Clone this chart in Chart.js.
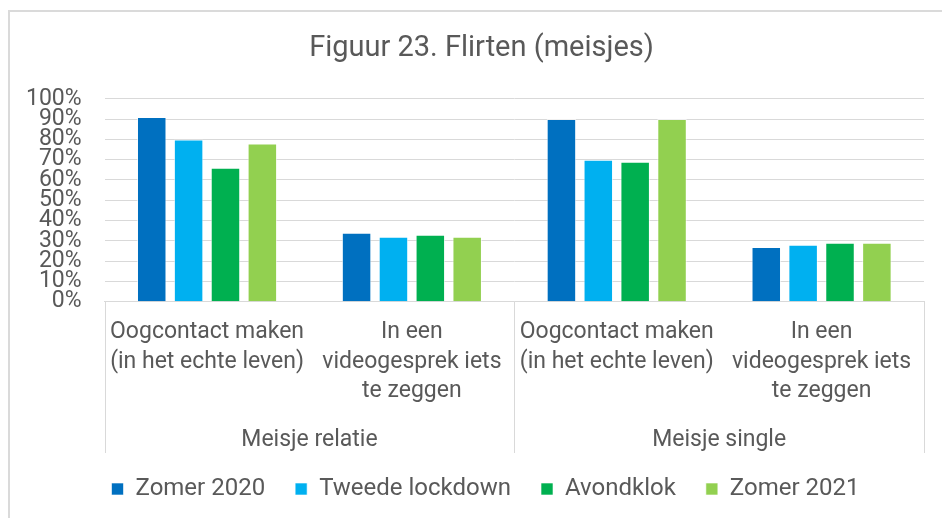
<!DOCTYPE html>
<html>
<head>
<meta charset="utf-8">
<script src="https://cdn.jsdelivr.net/npm/chart.js"></script>
<style>
    body { margin: 0; background: #fff; }
    #wrap { position: relative; width: 942px; height: 518px; overflow: hidden; }
    #frame { position: absolute; left: 8px; top: 10px; width: 1000px; height: 600px; border-top: 2px solid #dadada; border-left: 2px solid #dadada; }
    canvas { position: absolute; left: 0; top: 0; }
</style>
</head>
<body>
<div id="wrap">
    <div id="frame"></div>
    <canvas id="chart" width="942" height="518"></canvas>
</div>
<script>
// Data
const categories = [
    ["Oogcontact maken", "(in het echte leven)"],
    ["In een", "videogesprek iets", "te zeggen"],
    ["Oogcontact maken", "(in het echte leven)"],
    ["In een", "videogesprek iets", "te zeggen"],
]
const groups = ["Meisje relatie", "Meisje single"]
const seriesNames = ["Zomer 2020", "Tweede lockdown", "Avondklok", "Zomer 2021"]
const zomer2020 = [91, 34, 90, 27]
const tweedeLockdown = [80, 32, 70, 28]
const avondklok = [66, 33, 69, 29]
const zomer2021 = [78, 32, 90, 29]
const colors = ["#0070C0", "#00B0F0", "#00B050", "#92D050"]

const textColor = "#595959"
const gridColor = "#d9d9d9"
const font = "Roboto"

// Second level of the category axis: group names and separators
const groupAxis = {
    id: "groupAxis",
    afterLayout(chart) {
        // the original frame is wider than the picture, so title and legend sit a bit to the right
        chart.legend.left += 22
        chart.legend.right += 22
        chart.titleBlock.left += 18
        chart.titleBlock.right += 18
    },
    afterDraw(chart) {
        const x = chart.scales.x
        const ctx = chart.ctx
        const left = chart.chartArea.left
        const right = chart.chartArea.right
        const mid = (x.getPixelForValue(1) + x.getPixelForValue(2)) / 2
        const end = chart.legend.top + 6
        ctx.save()
        ctx.strokeStyle = gridColor
        ctx.lineWidth = 1
        ;[left, mid, right].forEach((px) => {
            ctx.beginPath()
            ctx.moveTo(Math.round(px) + 0.5, chart.chartArea.bottom)
            ctx.lineTo(Math.round(px) + 0.5, end)
            ctx.stroke()
        })
        ctx.fillStyle = textColor
        ctx.font = "23px " + font
        ctx.textAlign = "center"
        ctx.textBaseline = "middle"
        ctx.fillText(groups[0], (left + mid) / 2, x.bottom - 7)
        ctx.fillText(groups[1], (mid + right) / 2, x.bottom - 7)
        ctx.restore()
    },
}

const datasets = [zomer2020, tweedeLockdown, avondklok, zomer2021].map((data, i) => ({
    label: seriesNames[i],
    data: data,
    backgroundColor: colors[i],
    borderColor: "rgba(255,255,255,0.6)",
    borderWidth: 1,
    categoryPercentage: 0.72,
    barPercentage: 0.8,
}))

new Chart(document.getElementById("chart"), {
    type: "bar",
    data: { labels: categories, datasets: datasets },
    plugins: [groupAxis],
    options: {
        responsive: false,
        animation: false,
        layout: { padding: { left: 3, right: 18, top: 14, bottom: 7 } },
        plugins: {
            title: {
                display: true,
                text: "Figuur 23. Flirten (meisjes)",
                color: textColor,
                font: { family: font, size: 29, weight: "normal" },
                padding: { top: 17, bottom: 33 },
            },
            legend: {
                position: "bottom",
                labels: {
                    color: textColor,
                    font: { family: font, size: 24 },
                    boxWidth: 12,
                    boxHeight: 12,
                    padding: 30,
                },
            },
            tooltip: { enabled: false },
        },
        scales: {
            x: {
                grid: { display: false },
                border: { color: gridColor, width: 1 },
                ticks: {
                    color: textColor,
                    font: { family: font, size: 23, lineHeight: 1.28 },
                    maxRotation: 0,
                    autoSkip: false,
                    padding: 8,
                },
                afterFit: (scale) => {
                    scale.height += 33
                },
            },
            y: {
                min: 0,
                max: 100,
                grid: { color: gridColor, lineWidth: 1, drawTicks: false },
                border: { display: false },
                ticks: {
                    stepSize: 10,
                    autoSkip: false,
                    color: textColor,
                    font: { family: font, size: 23, lineHeight: 0.9 },
                    padding: 23,
                    callback: (v) => v + "%",
                },
            },
        },
    },
})
</script>
</body>
</html>
